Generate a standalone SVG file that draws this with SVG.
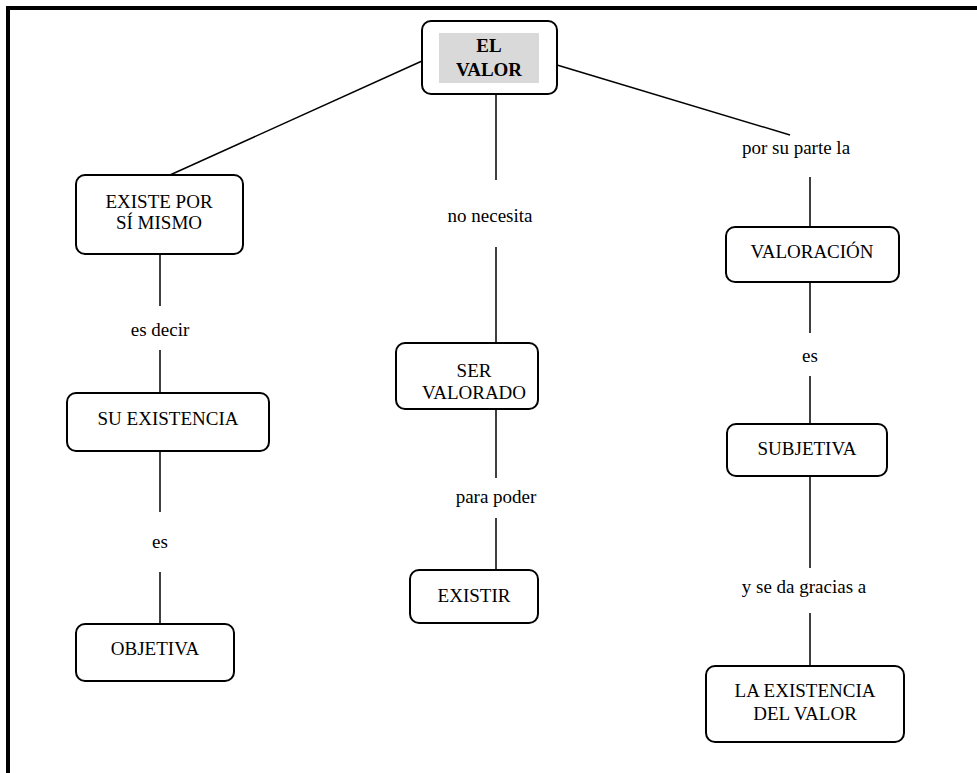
<svg xmlns="http://www.w3.org/2000/svg" width="977" height="773" viewBox="0 0 977 773">
  <style>
    .box { fill: #ffffff; stroke: #000000; stroke-width: 2; }
    .lbl { font-family: "Liberation Serif", "Times New Roman", serif; font-size: 19px; fill: #000000; text-anchor: middle; }
    .bold { font-weight: bold; }
    .link { stroke: #000000; stroke-width: 1.5; fill: none; }
  </style>
  <rect width="977" height="773" fill="#ffffff"/>
  <!-- page frame: top and left rules only -->
  <path d="M8 773 V8 H977" fill="none" stroke="#000000" stroke-width="4"/>

  <g id="connectors">
    <line class="link" x1="422" y1="61" x2="170" y2="175"/>
    <line class="link" x1="557" y1="65" x2="790" y2="135"/>
    <line class="link" x1="496" y1="95" x2="496" y2="180"/>
    <line class="link" x1="496" y1="247" x2="496" y2="343"/>
    <line class="link" x1="810" y1="177" x2="810" y2="227"/>
    <line class="link" x1="160" y1="254" x2="160" y2="306"/>
    <line class="link" x1="160" y1="350" x2="160" y2="393"/>
    <line class="link" x1="160" y1="451" x2="160" y2="512"/>
    <line class="link" x1="160" y1="572" x2="160" y2="624"/>
    <line class="link" x1="496" y1="409" x2="496" y2="478"/>
    <line class="link" x1="496" y1="518" x2="496" y2="570"/>
    <line class="link" x1="810" y1="282" x2="810" y2="333"/>
    <line class="link" x1="810" y1="376" x2="810" y2="424"/>
    <line class="link" x1="810" y1="476" x2="810" y2="568"/>
    <line class="link" x1="810" y1="613" x2="810" y2="666"/>
    <text class="lbl" x="490" y="222">no necesita</text>
    <text class="lbl" x="796" y="154">por su parte la</text>
    <text class="lbl" x="160" y="336">es decir</text>
    <text class="lbl" x="160" y="548">es</text>
    <text class="lbl" x="496" y="503">para poder</text>
    <text class="lbl" x="810" y="362">es</text>
    <text class="lbl" x="804" y="593">y se da gracias a</text>
  </g>

  <g id="el-valor">
    <rect class="box" x="422" y="21" width="135" height="73" rx="9"/>
    <rect x="439" y="33" width="100" height="50" fill="#d9d9d9"/>
    <text class="lbl bold" x="489" y="52">EL</text>
    <text class="lbl bold" x="489" y="76">VALOR</text>
  </g>

  <g id="existe-por-si-mismo">
    <rect class="box" x="76" y="175" width="167" height="79" rx="9"/>
    <text class="lbl" x="159" y="208">EXISTE POR</text>
    <text class="lbl" x="159" y="229">SÍ MISMO</text>
  </g>

  <g id="su-existencia">
    <rect class="box" x="67" y="393" width="202" height="58" rx="9"/>
    <text class="lbl" x="168" y="425">SU EXISTENCIA</text>
  </g>

  <g id="objetiva">
    <rect class="box" x="76" y="624" width="158" height="57" rx="9"/>
    <text class="lbl" x="155" y="655">OBJETIVA</text>
  </g>

  <g id="ser-valorado">
    <rect class="box" x="396" y="343" width="142" height="66" rx="9"/>
    <text class="lbl" x="474" y="377">SER</text>
    <text class="lbl" x="474" y="399">VALORADO</text>
  </g>

  <g id="existir">
    <rect class="box" x="410" y="570" width="128" height="53" rx="9"/>
    <text class="lbl" x="474" y="602">EXISTIR</text>
  </g>

  <g id="valoracion">
    <rect class="box" x="726" y="227" width="173" height="55" rx="9"/>
    <text class="lbl" x="812" y="258">VALORACIÓN</text>
  </g>

  <g id="subjetiva">
    <rect class="box" x="727" y="424" width="160" height="52" rx="9"/>
    <text class="lbl" x="807" y="455">SUBJETIVA</text>
  </g>

  <g id="la-existencia-del-valor">
    <rect class="box" x="706" y="666" width="198" height="76" rx="9"/>
    <text class="lbl" x="805" y="697">LA EXISTENCIA</text>
    <text class="lbl" x="805" y="720">DEL VALOR</text>
  </g>
</svg>
